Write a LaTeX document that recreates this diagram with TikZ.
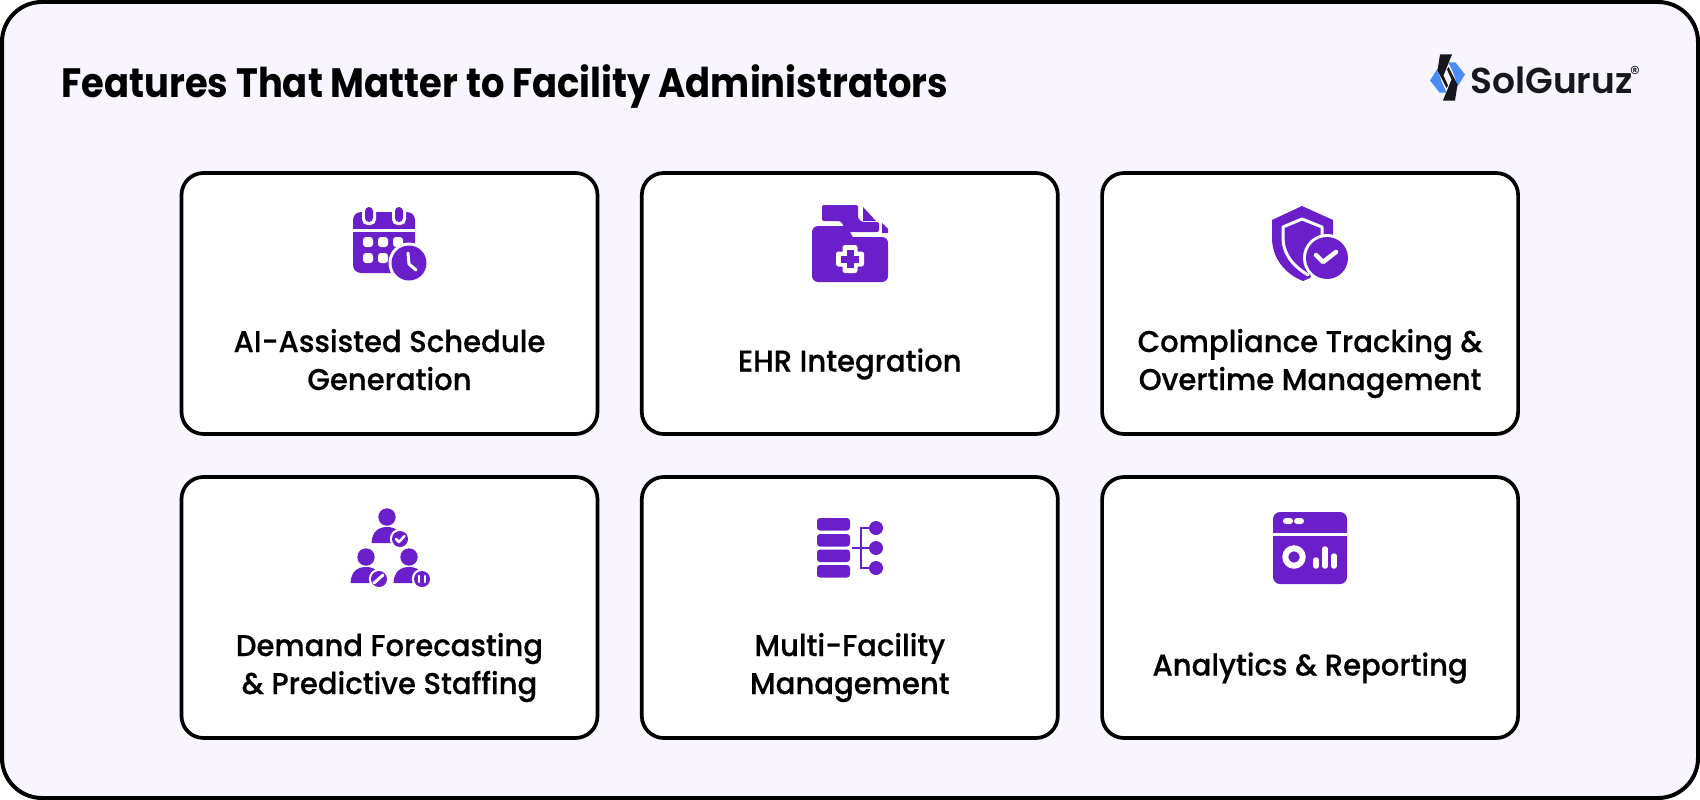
\documentclass[tikz,border=0pt]{standalone}
\usepackage{fontspec}
\setmainfont{Poppins}
\newfontfamily\headfont{Poppins Bold}[FakeStretch=0.9]
\newfontfamily\brandfont{Poppins SemiBold}
\newfontfamily\cardfont{Poppins Medium}[FakeStretch=0.97, RawFeature={embolden=0.5}]
\usetikzlibrary{positioning, calc}
\definecolor{paper}{HTML}{F9F5FE}
\definecolor{iconfill}{HTML}{6B1FCB}
\definecolor{logoblue}{HTML}{4B8DF8}
\definecolor{logoink}{HTML}{17171C}
\tikzset{
    frame/.style={draw=black, line width=4pt, rounded corners=40pt, fill=paper},
    card/.style={draw=black, line width=3.7pt, rounded corners=22pt, fill=white,
        minimum width=416pt, minimum height=261pt, inner sep=0pt, outer sep=0pt},
    cardlabel/.style={font=\cardfont\fontsize{30}{38}\selectfont, align=center, text=black, anchor=base},
    ic/.style={fill=iconfill, draw=none},
    cut/.style={fill=white, draw=none},
    cutline/.style={draw=white, line cap=round, line join=round},
}
% one person with a round badge, origin at the centre of the head
\newcommand{\person}[1]{
    \fill[iconfill] (#1) circle (8.7);
    \fill[iconfill] ($(#1)+(-15.5,26)$) .. controls ($(#1)+(-15,14)$) and ($(#1)+(-8,10)$) .. ($(#1)+(0,10)$)
        .. controls ($(#1)+(8,10)$) and ($(#1)+(15,14)$) .. ($(#1)+(15.5,26)$) -- cycle;
    \fill[white] ($(#1)+(13,22)$) circle (10.2);
    \fill[iconfill] ($(#1)+(13,22)$) circle (8);
}

\begin{document}
\begin{tikzpicture}[x=1pt, y=-1pt, node distance=43pt and 44.3pt]
    \useasboundingbox (0,0) rectangle (1700,800);
    \fill[white] (0,0) rectangle (1700,800);
    \draw[frame] (2,2) rectangle (1698,798);

    \node[anchor=base west, font=\headfont\fontsize{41}{44}\selectfont] (heading) at (58,97) {Features That Matter to Facility Administrators};

    \node[card] (schedule) at (389.5,303.5) {};
    \node[card, right=of schedule] (ehr) {};
    \node[card, right=of ehr] (compliance) {};
    \node[card, below=of schedule] (demand) {};
    \node[card, right=of demand] (multi) {};
    \node[card, right=of multi] (analytics) {};

    \node[cardlabel] (schedulelabel) at ($(schedule)+(0,86.5)$) {AI-Assisted Schedule\\Generation};
    \node[cardlabel] (ehrlabel) at ($(ehr)+(0,68)$) {EHR Integration};
    \node[cardlabel] (compliancelabel) at ($(compliance)+(0,86.5)$) {Compliance Tracking \&\\Overtime Management};
    \node[cardlabel] (demandlabel) at ($(demand)+(0,86.5)$) {Demand Forecasting\\\& Predictive Staffing};
    \node[cardlabel] (multilabel) at ($(multi)+(0,86.5)$) {Multi-Facility\\Management};
    \node[cardlabel] (analyticslabel) at ($(analytics)+(0,68)$) {Analytics \& Reporting};

    % calendar
    \fill[ic, rounded corners=8pt] (353,212) rectangle (415,273);
    \fill[cut] (353,229) rectangle (415,231.5);
    \foreach \x in {369,399} {
        \fill[cut, rounded corners=5.5pt] (\x-7,204) rectangle (\x+7,225);
        \fill[ic, rounded corners=4pt] (\x-4,207) rectangle (\x+4,222);
    }
    \foreach \x in {368,383,398} \foreach \y in {242,258}
        \fill[cut, rounded corners=3pt] (\x-5,\y-5) rectangle (\x+5,\y+5);
    \fill[cut] (409,263) circle (20.5);
    \fill[ic] (409,263) circle (17.5);
    \draw[cutline, line width=3pt] (408,253) -- (409,264) -- (416,270);

    % folder
    \fill[ic, rounded corners=2pt] (822,205) -- (858,205) -- (858,214)
        .. controls (858,219) and (861,222) .. (866,222) -- (879,222) -- (879,232)
        -- (852,232) .. controls (848,232) and (846,230) .. (844,227)
        .. controls (842,223) and (841,221) .. (837,221) -- (822,221) -- cycle;
    \fill[ic] (863,207) -- (876,221) -- (863,221) -- cycle;
    \fill[ic] (882,223) -- (888,229) -- (888,233) -- (882,233) -- cycle;
    \fill[ic, rounded corners=6pt] (812,226) -- (840,226) .. controls (846,226) and (848,228) .. (850,232)
        .. controls (852,236) and (854,237) .. (858,237) -- (888,237) -- (888,282) -- (812,282) -- cycle;
    \fill[cut, rounded corners=2.5pt] (842.5,245) rectangle (857.5,273);
    \fill[cut, rounded corners=2.5pt] (836,251.5) rectangle (864,266.5);
    \fill[ic] (846.5,250) rectangle (853.5,268);
    \fill[ic] (841,255.5) rectangle (859,262.5);

    % shield
    \fill[ic] (1302,206) -- (1333,220) -- (1333,245) -- (1310,278) -- (1303,281)
        .. controls (1285,274) and (1272,258) .. (1272,238) -- (1272,220) -- cycle;
    \draw[cutline, line width=3pt] (1302,219) -- (1283,227) -- (1283,238)
        .. controls (1283,252) and (1291,265) .. (1308,275);
    \draw[cutline, line width=3pt] (1302,219) -- (1322,227) -- (1322,240);
    \fill[cut] (1327,258) circle (24);
    \fill[ic] (1327,258) circle (21);
    \draw[cutline, line width=4.5pt] (1316,255) -- (1323,262) -- (1336,252);

    % people
    \person{387,517}
    \person{366,557}
    \person{409,557}
    \draw[cutline, line width=2.5pt] (396,539) -- (399,542) -- (404.5,536);
    \draw[cutline, line width=3pt] (374,583) -- (383,575);
    \draw[cutline, line width=2.6pt] (419,576) -- (419,582) (425,576) -- (425,582);

    % bars and tree
    \foreach \y in {518,534,549.5,565}
        \fill[ic, rounded corners=3pt] (817,\y) rectangle (850,\y+12.5);
    \draw[iconfill, line width=2.5pt] (876,528) -- (861,528) -- (861,568) -- (876,568);
    \draw[iconfill, line width=2.5pt] (852,548) -- (876,548);
    \foreach \y in {528,548,568}
        \fill[ic] (876,\y) circle (7);

    % browser
    \fill[ic, rounded corners=7pt] (1273,512) rectangle (1347,584);
    \fill[cut] (1273,533) rectangle (1347,535.5);
    \fill[cut, rounded corners=3pt] (1283,518) rectangle (1293,524);
    \fill[cut, rounded corners=3pt] (1294,518) rectangle (1304,524);
    \draw[white, line width=6pt] (1294,557) circle (8.7);
    \draw[cutline, line width=5.5pt] (1316,560) -- (1316,566);
    \draw[cutline, line width=5.5pt] (1325,549) -- (1325,566);
    \draw[cutline, line width=5.5pt] (1334,556) -- (1334,566);

    % logo
    \node[anchor=base west, font=\brandfont\fontsize{36}{40}\selectfont, text=logoink] (brand) at (1467,93) {SolGuruz};
    \node[font=\fontsize{20}{22}\selectfont, text=logoink] (reg) at (1635,73) {\textregistered};
    \foreach \r in {0,180} {
        \begin{scope}[shift={(1447.5,77.5)}, rotate=\r]
            \fill[logoblue] (-10,-9) -- (-17.5,3) -- (-8,15) -- (-1,15) -- (-6,4) -- (-8,-2) -- cycle;
            \fill[logoink] (-7.5,-23) -- (4.5,-23) -- (-4,-2) -- (0.5,8) -- (-1,10.5) -- (-10,-7) -- cycle;
        \end{scope}
    }
\end{tikzpicture}
\end{document}
